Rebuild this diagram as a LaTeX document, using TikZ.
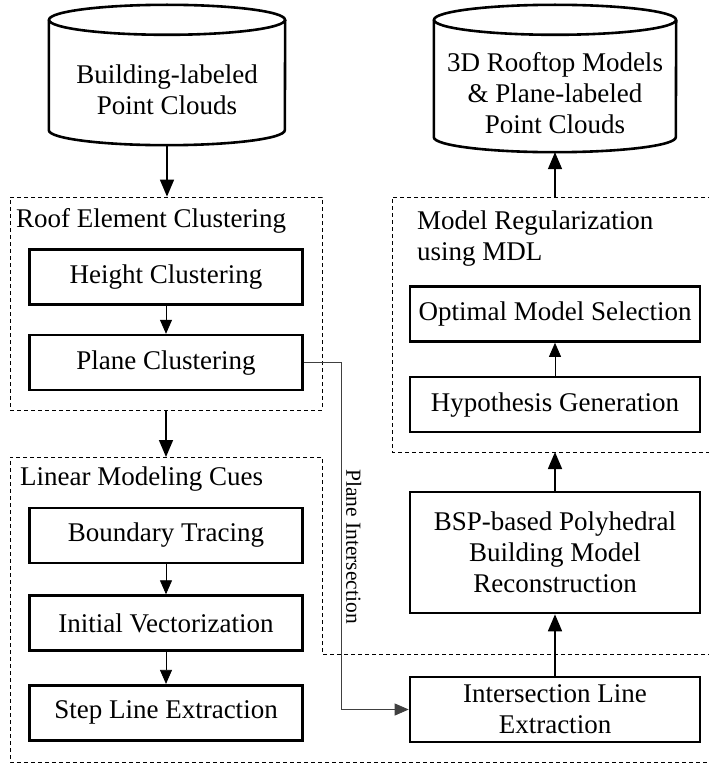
\documentclass[tikz,border=0pt]{standalone}
\usepackage{fontspec}
\setmainfont{Liberation Serif}
\usetikzlibrary{arrows.meta,positioning}

% data store outline round a node: #1 node, #2 half width
\newcommand\drawstore[2]{%
  \draw[storeline] ([yshift=15pt]#1.north) ellipse [x radius=#2, y radius=15pt];
  \draw[storeline] ([yshift=15pt]#1.north west) -- ([yshift=15pt]#1.south west)
    arc [start angle=180, end angle=360, x radius=#2, y radius=15pt] -- ([yshift=15pt]#1.north east);
}

\begin{document}
\begin{tikzpicture}[x=1pt, y=-1pt,
  font=\fontsize{27}{31}\selectfont,
  block/.style={draw, line width=2.6pt, minimum width=273pt, minimum height=55pt, inner sep=0pt, align=center},
  rblock/.style={block, minimum width=290pt},
  store/.style={minimum width=#1, minimum height=110pt, inner sep=0pt, align=center},
  storeline/.style={line width=2.6pt},
  group/.style={draw, line width=0.8pt, dash pattern=on 4pt off 3pt},
  title/.style={anchor=base west, inner sep=0pt, align=left},
  bigarrow/.style={line width=1.6pt, -{Triangle[length=17pt, width=14pt]}},
  smallarrow/.style={line width=0.8pt, -{Triangle[length=14pt, width=12pt]}},
  aux/.style={line width=0.8pt, black!75, -{Triangle[length=14pt, width=12pt]}}]
	\useasboundingbox (0,0) rectangle (709,768);

	% input and output stores
	\node[store=236pt] (src) at (167,90) {Building-labeled\\Point Clouds};
	\drawstore{src}{118pt}
	\node[store=242pt, minimum height=117pt] (dst) at (555,93.5) {3D Rooftop Models\\\& Plane-labeled\\Point Clouds};
	\drawstore{dst}{121pt}

	% roof element clustering
	\node[group, minimum width=312pt, minimum height=213pt] (roof) at (166,303.5) {};
	\node[title] (rooftitle) at (16,227) {Roof Element Clustering};
	\node[block] (height) at (166,277) {Height Clustering};
	\node[block, below=28pt of height] (plane) {Plane Clustering};

	% linear modeling cues
	\draw[group] (712,654) -- (322,654) -- (322,457) -- (10,457) -- (10,762) -- (712,762);
	\coordinate (lintop) at (166,457);
	\node[title] (lintitle) at (20,485) {Linear Modeling Cues};
	\node[block] (boundary) at (166,535.5) {Boundary Tracing};
	\node[block, below=30pt of boundary] (initvec) {Initial Vectorization};
	\node[block, below=32pt of initvec] (stepline) {Step Line Extraction};

	% model regularization
	\draw[group] (712,197) -- (392,197) -- (392,452) -- (712,452);
	\coordinate (mdltop) at (555,197);
	\coordinate (mdlbot) at (555,452);
	\node[title] (mdltitle) at (417,260) {Model Regularization\\using MDL};
	\node[rblock] (optimal) at (555,314) {Optimal Model Selection};
	\node[rblock, below=33pt of optimal] (hypo) {Hypothesis Generation};

	\node[rblock, minimum height=121pt] (bsp) at (555,552.5) {BSP-based Polyhedral\\Building Model\\Reconstruction};
	\node[rblock, minimum height=65pt] (inter) at (555,709.5) {Intersection Line\\Extraction};

	% connectors
	\draw[bigarrow] (src.south) -- (src.south |- roof.north);
	\draw[smallarrow] (height) -- (plane);
	\draw[bigarrow] (roof.south) -- (lintop);
	\draw[smallarrow] (boundary) -- (initvec);
	\draw[smallarrow] (initvec) -- (stepline);
	\draw[smallarrow] (hypo) -- (optimal);
	\draw[bigarrow] (bsp.north) -- (mdlbot);
	\draw[bigarrow] (inter) -- (bsp);
	\draw[bigarrow] (mdltop) -- (dst.south);
	\draw[aux] (plane.east) -- ++(38,0) |- node[pos=0.265, rotate=-90, anchor=south, inner sep=4pt, black, font=\fontsize{21.5}{26}\selectfont] {Plane Intersection} (inter.west);
\end{tikzpicture}
\end{document}
